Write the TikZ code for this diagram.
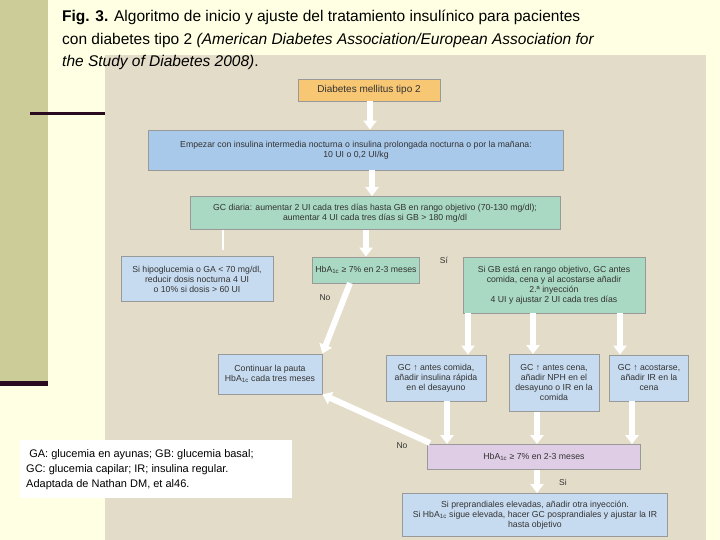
\documentclass[tikz,border=0pt]{standalone}
\usepackage{fontspec}
\setmainfont{Liberation Sans}
\usetikzlibrary{arrows.meta}
\definecolor{slide}{HTML}{FFFFE3}
\definecolor{olive}{HTML}{CCCC99}
\definecolor{darkl}{HTML}{2A0A1E}
\definecolor{panel}{HTML}{E3DCC8}
\definecolor{orangeb}{HTML}{F7C774}
\definecolor{blueb}{HTML}{A9C9EA}
\definecolor{lblue}{HTML}{C7DBF0}
\definecolor{greenb}{HTML}{A9D9C3}
\definecolor{pinkb}{HTML}{DFCDE6}
\tikzset{
 box/.style={draw=black!40, line width=0.8pt, align=center, inner sep=1pt, font=\fontsize{8.7}{10}\selectfont, text=black!80},
 warr/.style={draw=white, line width=6pt, -{Triangle[width=13pt,length=9pt]}},
 wline/.style={draw=white, line width=1.5pt},
 lab/.style={font=\fontsize{8.5}{9}\selectfont, text=black!80},
}
\begin{document}
\begin{tikzpicture}[x=1pt,y=-1pt]
\useasboundingbox (0,0) rectangle (720,540);
\fill[slide] (0,0) rectangle (720,540);
\fill[olive] (0,0) rectangle (48,383);
\fill[darkl] (0,381) rectangle (48,386);
\fill[darkl] (30,112) rectangle (105,115);
\fill[panel] (105,55) rectangle (706,540);
% caption
\node[anchor=north west, align=left, font=\fontsize{15.5}{22.5}\selectfont, inner sep=0pt] (cap) at (62,10)
 {\textbf{Fig. 3.} Algoritmo de inicio y ajuste del tratamiento insulínico para pacientes\\
 con diabetes tipo 2 \textit{(American Diabetes Association/European Association for}\\
 \textit{the Study of Diabetes 2008)}.};
% boxes
\node[box, fill=orangeb, minimum width=142, minimum height=22, font=\fontsize{10}{11}\selectfont] (dm) at (369,90) {Diabetes mellitus tipo 2};
\node[box, fill=blueb, minimum width=415, minimum height=40] (emp) at (356,150) {Empezar con insulina intermedia nocturna o insulina prolongada nocturna o por la mañana:\\10 UI o 0,2 UI/kg};
\node[box, fill=greenb, minimum width=370, minimum height=33] (gc) at (375,213) {GC diaria: aumentar 2 UI cada tres días hasta GB en rango objetivo (70-130 mg/dl);\\aumentar 4 UI cada tres días si GB > 180 mg/dl};
\node[box, fill=lblue, minimum width=152, minimum height=45] (hipo) at (197,279) {Si hipoglucemia o GA < 70 mg/dl,\\reducir dosis nocturna 4 UI\\o 10\% si dosis > 60 UI};
\node[box, fill=greenb, minimum width=107, minimum height=26] (hba) at (366,270) {HbA\textsubscript{1c} ≥ 7\% en 2-3 meses};
\node[box, fill=greenb, minimum width=182, minimum height=56] (sigb) at (554,285) {Si GB está en rango objetivo, GC antes\\comida, cena y al acostarse añadir\\2.ª inyección\\4 UI y ajustar 2 UI cada tres días};
\node[box, fill=lblue, minimum width=104, minimum height=40] (cont) at (270,374) {Continuar la pauta\\HbA\textsubscript{1c} cada tres meses};
\node[box, fill=lblue, minimum width=100, minimum height=46] (com) at (436,378) {GC ↑ antes comida,\\añadir insulina rápida\\en el desayuno};
\node[box, fill=lblue, minimum width=90, minimum height=57] (cena) at (554,383) {GC ↑ antes cena,\\añadir NPH en el\\desayuno o IR en la\\comida};
\node[box, fill=lblue, minimum width=79, minimum height=46] (aco) at (649,378) {GC ↑ acostarse,\\añadir IR en la\\cena};
\node[box, fill=pinkb, minimum width=213, minimum height=25] (hbb) at (534,457) {HbA\textsubscript{1c} ≥ 7\% en 2-3 meses};
\node[box, fill=lblue, minimum width=265, minimum height=43] (fin) at (535,515) {Si preprandiales elevadas, añadir otra inyección.\\Si HbA\textsubscript{1c} sigue elevada, hacer GC posprandiales y ajustar la IR\\hasta objetivo};
% footnote box
\fill[white] (20,440) rectangle (292,498);
\node[anchor=north west, align=left, inner sep=0pt, font=\fontsize{11}{15}\selectfont] (foot) at (26,449)
 {\ GA: glucemia en ayunas; GB: glucemia basal;\\GC: glucemia capilar; IR; insulina regular.\\Adaptada de Nathan DM, et al46.};
% connectors
\draw[warr] (dm.south -| 370,0) -- (emp.north -| 370,0);
\draw[warr] (emp.south -| 372,0) -- (gc.north -| 372,0);
\draw[warr] (gc.south -| hba) -- (hba.north);
\draw[wline] (gc.south -| 223,0) -- (223,250);
\draw[warr] (350,283) -- (cont.north east);
\draw[warr] (sigb.south -| 468,0) -- (com.north -| 468,0);
\draw[warr] (sigb.south -| 533,0) -- (cena.north -| 533,0);
\draw[warr] (sigb.south -| 620,0) -- (aco.north -| 620,0);
\draw[warr] (com.south -| 447,0) -- (hbb.north -| 447,0);
\draw[warr] (cena.south -| 537,0) -- (hbb.north -| 537,0);
\draw[warr] (aco.south -| 632,0) -- (hbb.north -| 632,0);
\draw[warr] (hbb.south -| 537,0) -- (fin.north -| 537,0);
\coordinate (dstart) at (430,443);
\draw[warr] (dstart) -- (cont.south east);
% labels
\node[lab] (lsi1) at (444,260) {Sí};
\node[lab] (lno1) at (325,298) {No};
\node[lab] (lno2) at (402,446) {No};
\node[lab] (lsi2) at (563,482) {Si};
\end{tikzpicture}
\end{document}
